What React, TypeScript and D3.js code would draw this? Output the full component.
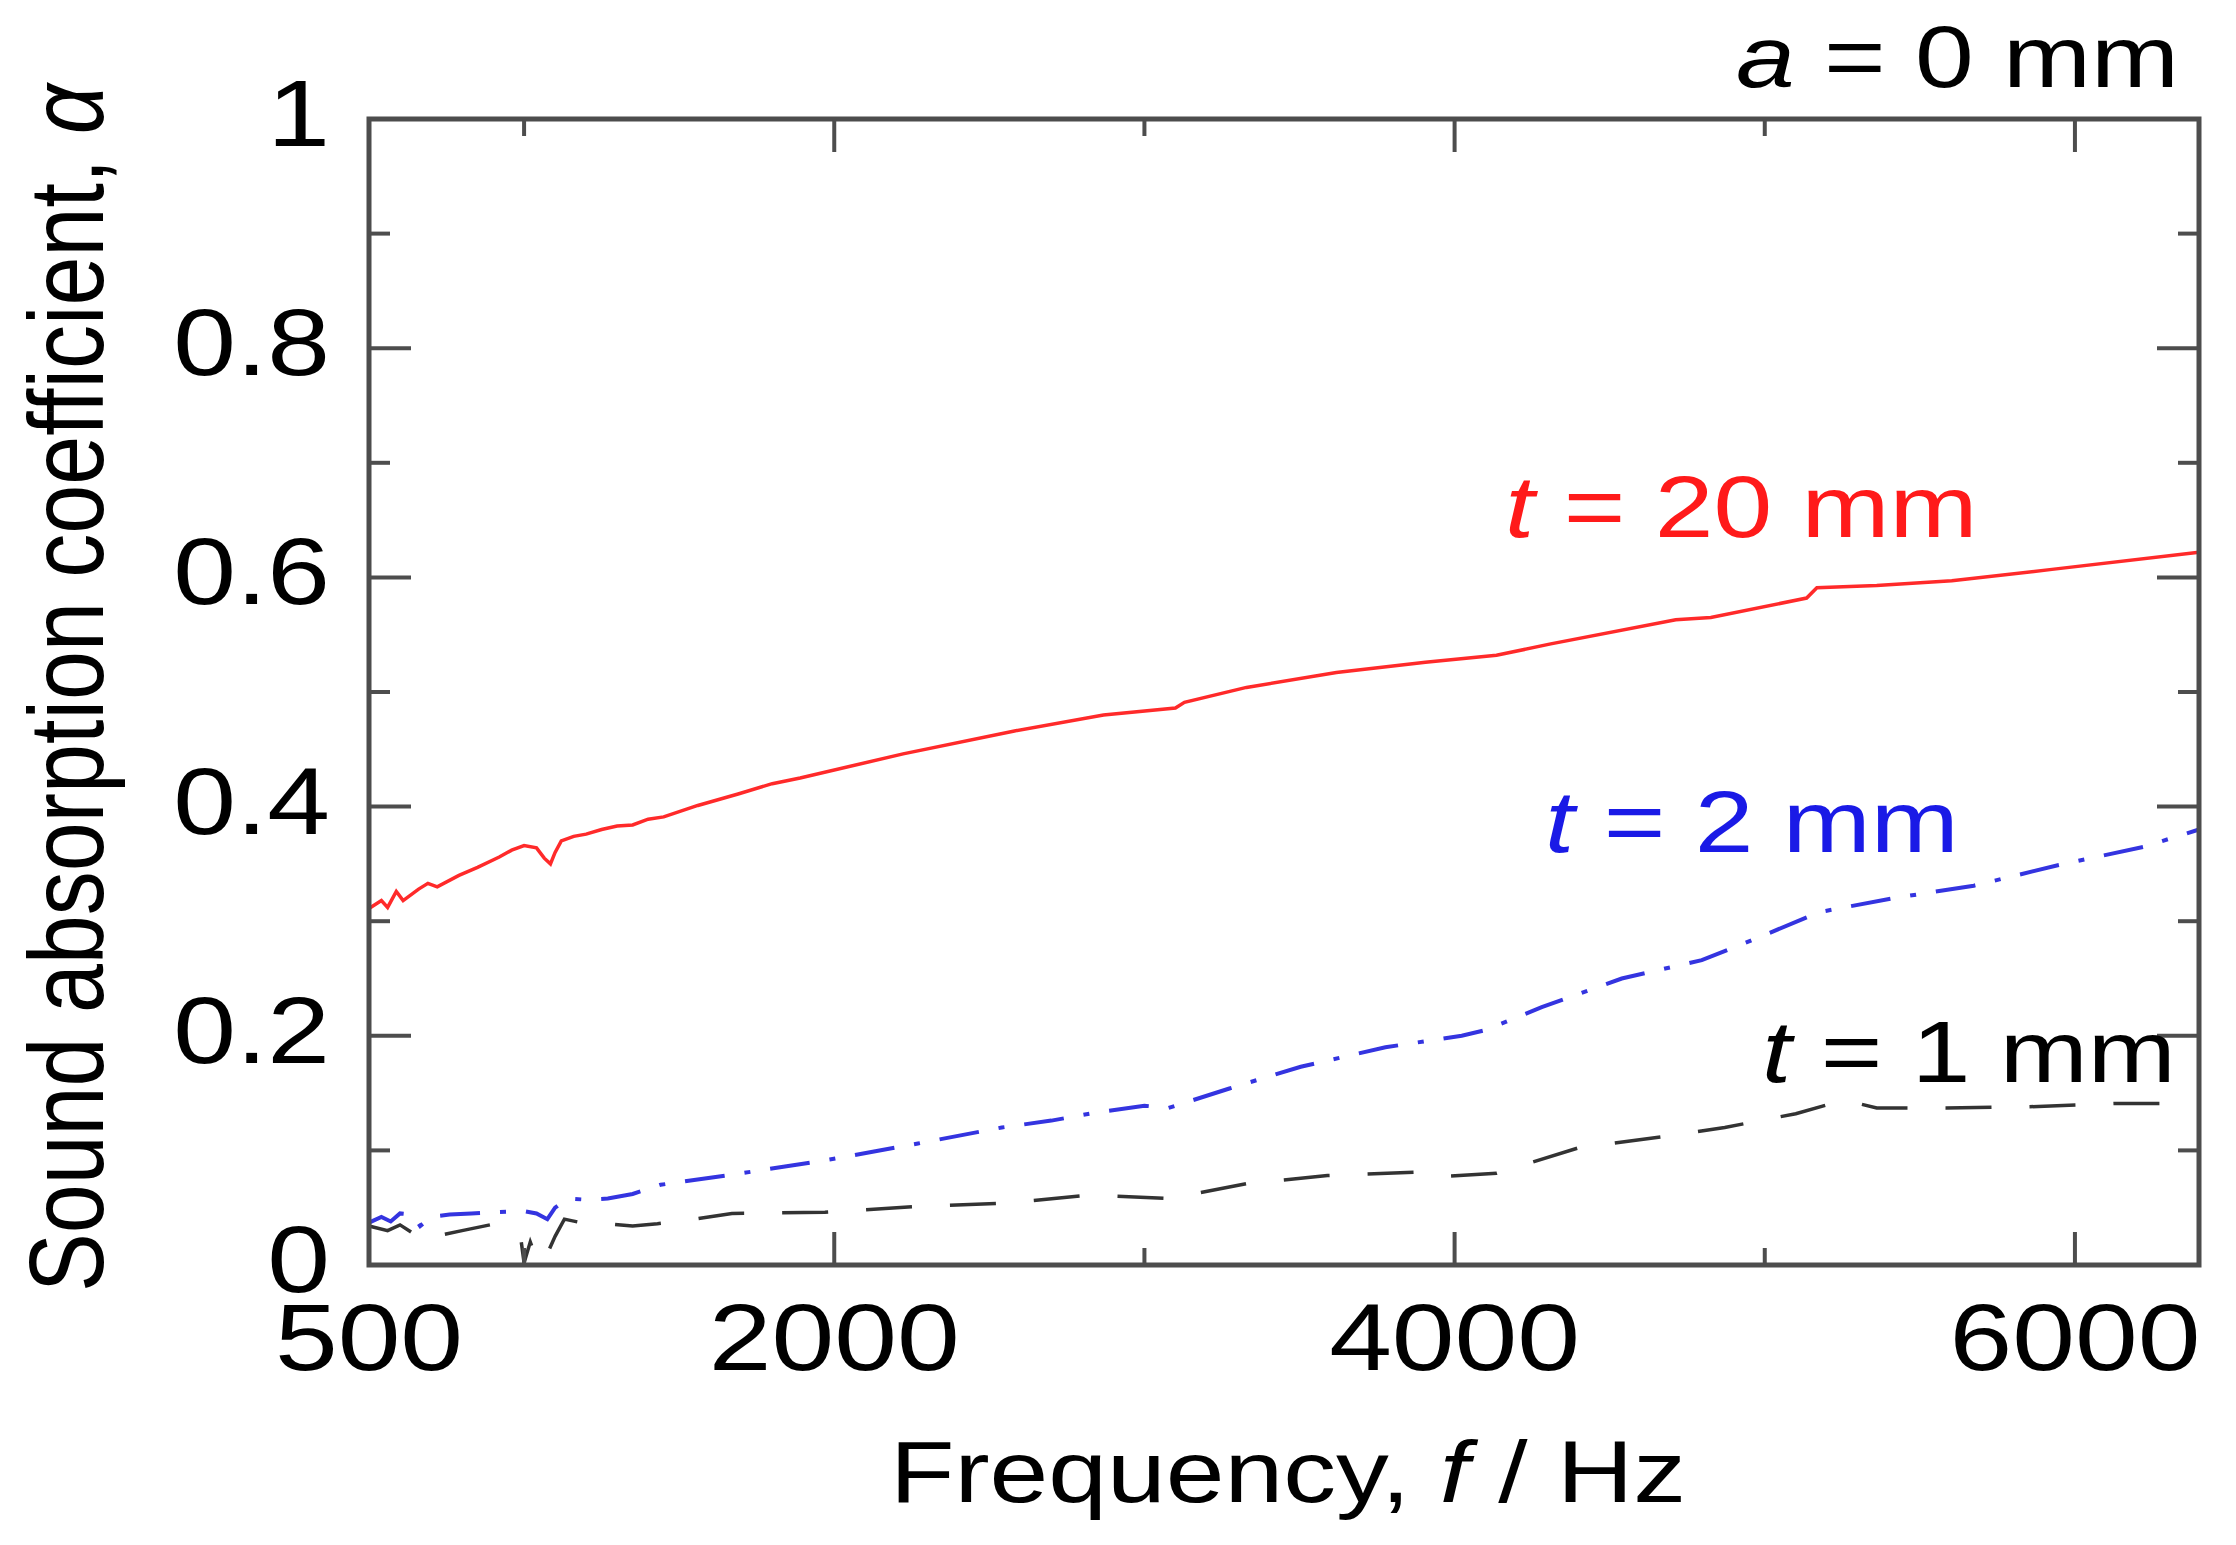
import * as d3 from "d3";

// Frequency (Hz) / absorption coefficient readings for each thickness
const t20Freq = [500, 540, 560, 588, 610, 660, 690, 720, 790, 850, 920, 960, 1000, 1040, 1065, 1085, 1100, 1120, 1160, 1200, 1250, 1300, 1350, 1400, 1450, 1560, 1690, 1800, 1890, 2222, 2581, 2868, 3100, 3129, 3329, 3619, 3906, 4135, 4310, 4713, 4826, 5135, 5168, 5361, 5603, 5926, 6400];
const t20Alpha = [0.311, 0.318, 0.312, 0.326, 0.318, 0.328, 0.333, 0.33, 0.34, 0.347, 0.356, 0.362, 0.366, 0.364, 0.355, 0.35, 0.36, 0.37, 0.374, 0.376, 0.38, 0.383, 0.384, 0.389, 0.391, 0.401, 0.411, 0.42, 0.425, 0.446, 0.466, 0.48, 0.486, 0.491, 0.504, 0.517, 0.526, 0.532, 0.542, 0.563, 0.565, 0.582, 0.591, 0.593, 0.597, 0.607, 0.622];

const t2Freq = [500, 540, 570, 600, 640, 665, 700, 760, 830, 900, 1000, 1040, 1075, 1100, 1140, 1200, 1270, 1350, 1440, 1700, 1985, 2270, 2540, 2700, 2842, 3000, 3077, 3274, 3504, 3777, 4023, 4100, 4281, 4539, 4797, 4955, 5177, 5413, 5674, 5948, 6223, 6400];
const t2Alpha = [0.037, 0.042, 0.038, 0.045, 0.044, 0.034, 0.042, 0.044, 0.045, 0.046, 0.047, 0.045, 0.04, 0.05, 0.058, 0.057, 0.058, 0.062, 0.07, 0.08, 0.092, 0.106, 0.12, 0.126, 0.133, 0.139, 0.137, 0.154, 0.173, 0.19, 0.2, 0.205, 0.225, 0.25, 0.266, 0.283, 0.308, 0.32, 0.331, 0.349, 0.365, 0.38];

const t1Freq = [500, 560, 600, 640, 700, 730, 800, 890, 960, 990, 1000, 1020, 1045, 1065, 1100, 1130, 1200, 1270, 1350, 1430, 1550, 1670, 1970, 2260, 2550, 2826, 3084, 3329, 3590, 3877, 3948, 4135, 4397, 4671, 4871, 5100, 5255, 5361, 5584, 5845, 6132, 6400];
const t1Alpha = [0.034, 0.03, 0.035, 0.028, 0.033, 0.026, 0.03, 0.035, 0.03, 0.022, 0.002, 0.02, 0.002, 0.004, 0.025, 0.04, 0.036, 0.036, 0.034, 0.036, 0.04, 0.045, 0.046, 0.051, 0.054, 0.061, 0.058, 0.071, 0.078, 0.081, 0.077, 0.08, 0.102, 0.112, 0.12, 0.132, 0.144, 0.137, 0.137, 0.138, 0.141, 0.141];

const xTickLabels = [500, 2000, 4000, 6000];
const xMajorTicks = [2000, 4000, 6000];
const xMinorTicks = [1000, 3000, 5000];
const yTickLabels = [0, 0.2, 0.4, 0.6, 0.8, 1];
const yMajorTicks = [0.2, 0.4, 0.6, 0.8];
const yMinorTicks = [0.1, 0.3, 0.5, 0.7, 0.9];

const FONT = "'Liberation Sans', Arial, Helvetica, sans-serif";
const SX = 1.2; // the original figure is stretched horizontally

export default function App() {
  const width = 2236;
  const height = 1545;
  const left = 369, right = 2199, top = 119, bottom = 1265;

  const x = d3.scaleLinear().domain([500, 6400]).range([left, right]);
  const y = d3.scaleLinear().domain([0, 1]).range([bottom, top]);

  const line = d3
    .line<[number, number]>()
    .x(d => x(d[0]))
    .y(d => y(d[1]));

  const zip = (f: number[], a: number[]) => f.map((v, i) => [v, a[i]] as [number, number]);

  const axisColor = "#4d4d4d";

  const stretched = (
    tx: number,
    ty: number,
    anchor: string,
    size: number,
    fill: string,
    children: any,
    key?: string
  ) => (
    <text
      key={key}
      transform={`translate(${tx},${ty}) scale(${SX},1)`}
      textAnchor={anchor}
      fontSize={size}
      fontFamily={FONT}
      fill={fill}
    >
      {children}
    </text>
  );

  return (
    <svg
      width={width}
      height={height}
      style={{ position: "absolute", left: 0, top: 0, background: "#fff" }}
    >
      <rect x={0} y={0} width={width} height={height} fill="#fff" />

      {/* data */}
      <path d={line(zip(t1Freq, t1Alpha)) || ""} fill="none" stroke="#333" strokeWidth={3.5} strokeDasharray="46 38" />
      <path d={line(zip(t2Freq, t2Alpha)) || ""} fill="none" stroke="#3434e0" strokeWidth={4} strokeDasharray="40 20 6 20" />
      <path d={line(zip(t20Freq, t20Alpha)) || ""} fill="none" stroke="#ff2a2a" strokeWidth={3.5} />

      {/* frame */}
      <rect x={left} y={top} width={right - left} height={bottom - top} fill="none" stroke={axisColor} strokeWidth={5} />

      {/* x ticks, inward on bottom and top */}
      {xMajorTicks.map(t => (
        <g key={"xM" + t} stroke={axisColor} strokeWidth={4}>
          <line x1={x(t)} x2={x(t)} y1={bottom} y2={bottom - 33} />
          <line x1={x(t)} x2={x(t)} y1={top} y2={top + 33} />
        </g>
      ))}
      {xMinorTicks.map(t => (
        <g key={"xm" + t} stroke={axisColor} strokeWidth={4}>
          <line x1={x(t)} x2={x(t)} y1={bottom} y2={bottom - 17} />
          <line x1={x(t)} x2={x(t)} y1={top} y2={top + 17} />
        </g>
      ))}

      {/* y ticks, inward on left and right */}
      {yMajorTicks.map(t => (
        <g key={"yM" + t} stroke={axisColor} strokeWidth={4}>
          <line x1={left} x2={left + 42} y1={y(t)} y2={y(t)} />
          <line x1={right} x2={right - 42} y1={y(t)} y2={y(t)} />
        </g>
      ))}
      {yMinorTicks.map(t => (
        <g key={"ym" + t} stroke={axisColor} strokeWidth={4}>
          <line x1={left} x2={left + 21} y1={y(t)} y2={y(t)} />
          <line x1={right} x2={right - 21} y1={y(t)} y2={y(t)} />
        </g>
      ))}

      {/* tick labels */}
      {yTickLabels.map(t =>
        stretched(330, y(t) + 27, "end", 94, "#000", d3.format("~g")(t), "yl" + t)
      )}
      {xTickLabels.map(t =>
        stretched(x(t), 1370, "middle", 94, "#000", String(t), "xl" + t)
      )}

      {/* axis titles */}
      {stretched(1288, 1502, "middle", 88, "#000", (
        <>
          Frequency, <tspan fontStyle="italic">f</tspan> / Hz
        </>
      ))}
      <text
        transform={`translate(103,688) scale(${SX},1) rotate(-90)`}
        textAnchor="middle"
        fontSize={88}
        fontFamily={FONT}
        fill="#000"
      >
        Sound absorption coefficient, <tspan fontStyle="italic">α</tspan>
      </text>

      {/* annotations */}
      {stretched(2179, 87, "end", 88, "#000", (
        <>
          <tspan fontStyle="italic">a</tspan> = 0 mm
        </>
      ))}
      {stretched(1505, 537, "start", 88, "#ff1a1a", (
        <>
          <tspan fontStyle="italic">t</tspan> = 20 mm
        </>
      ))}
      {stretched(1545, 852, "start", 88, "#1a1ae6", (
        <>
          <tspan fontStyle="italic">t</tspan> = 2 mm
        </>
      ))}
      {stretched(1762, 1082, "start", 88, "#000", (
        <>
          <tspan fontStyle="italic">t</tspan> = 1 mm
        </>
      ))}
    </svg>
  );
}
